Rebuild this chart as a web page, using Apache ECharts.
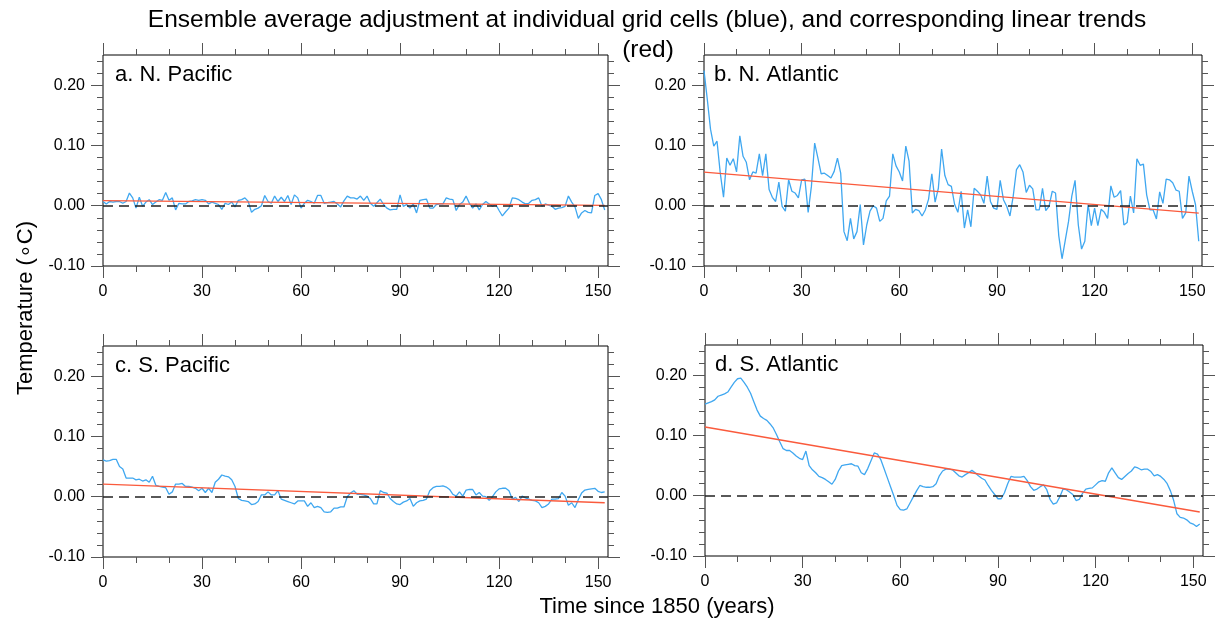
<!DOCTYPE html>
<html>
<head>
<meta charset="utf-8">
<script src="https://cdn.jsdelivr.net/npm/echarts@6/dist/echarts.min.js"></script>
<style>
html,body{margin:0;padding:0;background:#fff;}
#chart{width:1220px;height:621px;}
</style>
</head>
<body>
<div id="chart"></div>
<script>
// ---------------- DATA ----------------
const titleLine1 = "Ensemble average adjustment at individual grid cells (blue), and corresponding linear trends";
const titleLine2 = "(red)";
const yAxisName = "Temperature (\u2218C)";
const xAxisName = "Time since 1850 (years)";
const panelNames = ["a. N. Pacific", "b. N. Atlantic", "c. S. Pacific", "d. S. Atlantic"];

const xMajorTicks = [0, 30, 60, 90, 120, 150];
const xMinorTicks = [10, 20, 40, 50, 70, 80, 100, 110, 130, 140];
const yMajorTicks = [-0.1, 0, 0.1, 0.2];
const yMinorTicks = [-0.08, -0.06, -0.04, -0.02, 0.02, 0.04, 0.06, 0.08, 0.12, 0.14, 0.16, 0.18, 0.22, 0.24];

// years since 1850 (0..152)
const years = [];
for (let i = 0; i <= 152; i++) years.push(i);

const nPacific = [
0.007,0.003,0.007,0.006,0.007,0.007,0.004,0.007,0.021,0.013,
-0.004,0.014,-0.001,0.006,0.010,0.002,0.006,0.010,0.009,0.022,
0.009,0.013,-0.007,0.004,0.003,0.003,0.007,0.008,0.010,0.009,
0.010,0.009,0.003,0.006,0.004,0.002,-0.006,0.004,0.002,0.006,
-0.002,0.009,0.010,0.013,0.007,-0.011,-0.006,-0.004,0.000,0.017,
0.007,0.004,0.016,0.007,0.014,0.007,0.017,0.002,0.018,0.013,
-0.004,0.004,0.009,0.007,0.004,0.017,0.017,0.004,0.005,0.006,
0.007,0.003,-0.002,0.008,0.016,0.013,0.013,0.011,0.016,0.009,
0.016,0.004,-0.001,0.005,0.011,0.002,-0.004,-0.007,-0.006,-0.006,
0.018,-0.001,0.002,-0.004,0.003,-0.012,0.009,0.010,0.011,-0.004,
-0.004,0.002,0.003,0.003,0.013,0.011,0.010,-0.008,0.002,0.006,
0.016,0.004,-0.004,0.003,-0.007,0.002,0.007,0.003,-0.001,0.002,
-0.008,-0.017,-0.010,-0.004,0.013,0.012,0.010,0.006,0.003,0.004,
0.009,0.010,0.013,-0.001,0.003,0.001,-0.001,-0.006,-0.004,-0.003,
-0.001,0.016,0.006,-0.002,-0.021,-0.012,-0.008,-0.011,-0.012,0.017,
0.020,0.010,-0.007];

const nAtlantic = [
0.224,0.177,0.127,0.099,0.107,0.054,0.014,0.079,0.067,0.078,
0.056,0.116,0.082,0.072,0.043,0.056,0.054,0.086,0.050,0.086,
0.027,0.014,0.007,0.039,-0.001,-0.009,0.043,0.024,0.021,0.013,
0.043,0.044,-0.011,0.032,0.104,0.079,0.053,0.054,0.050,0.046,
0.057,0.079,0.054,-0.043,-0.058,-0.021,-0.055,-0.043,0.002,-0.065,
-0.032,-0.009,0.000,-0.004,-0.026,-0.021,0.008,0.016,0.086,0.066,
0.056,0.041,0.099,0.074,-0.012,-0.006,-0.008,-0.017,-0.007,0.011,
0.053,0.006,0.029,0.094,0.050,0.035,0.032,0.002,-0.011,0.024,
-0.037,-0.007,-0.035,0.029,0.024,0.018,0.004,0.049,0.007,-0.004,
-0.006,0.042,0.010,-0.001,-0.017,0.016,0.060,0.068,0.056,0.022,
0.034,0.028,-0.007,-0.007,0.029,-0.008,-0.001,0.024,0.021,-0.050,
-0.088,-0.057,-0.026,0.016,0.042,-0.032,-0.072,-0.059,0.002,-0.033,
-0.004,-0.033,-0.006,-0.011,-0.021,0.033,0.014,0.017,0.025,-0.032,
-0.028,0.016,-0.012,0.078,0.067,0.069,0.018,-0.007,-0.007,-0.022,
0.023,0.004,0.044,0.043,0.038,0.026,0.024,-0.021,-0.012,0.049,
0.024,0.002,-0.059];

const sPacific = [
0.061,0.059,0.060,0.062,0.062,0.050,0.046,0.031,0.031,0.031,
0.028,0.029,0.026,0.028,0.024,0.034,0.019,0.017,0.016,0.015,
0.004,0.008,0.021,0.021,0.022,0.017,0.017,0.016,0.014,0.010,
0.014,0.007,0.014,0.007,0.024,0.029,0.036,0.034,0.033,0.028,
0.017,-0.003,-0.006,-0.007,-0.008,-0.013,-0.012,-0.008,0.003,0.003,
0.008,0.003,0.003,0.010,-0.004,-0.006,-0.008,-0.010,-0.012,-0.007,
-0.007,-0.007,-0.016,-0.010,-0.018,-0.016,-0.018,-0.025,-0.026,-0.025,
-0.019,-0.019,-0.017,-0.017,0.000,0.006,0.010,0.004,0.004,0.003,
0.001,-0.003,-0.012,-0.012,0.010,0.007,0.006,-0.003,-0.008,-0.012,
-0.013,-0.009,-0.007,-0.003,-0.016,-0.010,-0.007,-0.006,-0.004,0.010,
0.015,0.017,0.017,0.018,0.016,0.012,0.004,0.001,0.008,0.001,
0.011,0.012,0.012,0.003,0.007,0.001,0.000,-0.006,0.000,0.008,
0.013,0.014,0.014,0.010,-0.004,-0.001,-0.008,0.001,-0.002,-0.004,
-0.006,-0.007,-0.010,-0.018,-0.016,-0.012,-0.004,-0.004,-0.003,0.007,
0.001,-0.014,-0.010,-0.018,-0.005,0.006,0.011,0.012,0.013,0.014,
0.009,0.007,0.008];

const sAtlantic = [
0.152,0.154,0.156,0.159,0.165,0.167,0.169,0.172,0.180,0.188,
0.194,0.195,0.188,0.180,0.170,0.156,0.142,0.132,0.128,0.125,
0.119,0.112,0.101,0.089,0.078,0.075,0.075,0.071,0.066,0.062,
0.060,0.074,0.050,0.043,0.038,0.032,0.030,0.027,0.023,0.019,
0.027,0.041,0.050,0.051,0.052,0.053,0.050,0.049,0.038,0.035,
0.045,0.058,0.071,0.069,0.060,0.045,0.030,0.015,0.000,-0.016,
-0.023,-0.024,-0.022,-0.012,-0.002,0.008,0.017,0.015,0.014,0.014,
0.015,0.020,0.033,0.041,0.044,0.044,0.043,0.038,0.033,0.031,
0.035,0.038,0.042,0.038,0.033,0.029,0.026,0.017,0.009,0.002,
-0.005,-0.005,0.005,0.020,0.032,0.031,0.031,0.031,0.032,0.025,
0.015,0.009,0.011,0.015,0.018,0.010,-0.006,-0.014,-0.012,-0.002,
0.011,0.010,0.006,0.002,-0.008,-0.006,0.004,0.011,0.012,0.013,
0.018,0.023,0.025,0.024,0.038,0.046,0.038,0.030,0.027,0.032,
0.037,0.041,0.048,0.046,0.043,0.044,0.044,0.040,0.033,0.035,
0.032,0.027,0.020,0.008,-0.008,-0.030,-0.036,-0.037,-0.040,-0.045,
-0.047,-0.051,-0.047];

// linear trend endpoints (value at year 0 and year 152)
const trendYears = [0, 152];
const trendNPacific = [0.0083, 0.0005];
const trendNAtlantic = [0.0556, -0.0122];
const trendSPacific = [0.021, -0.010];
const trendSAtlantic = [0.114, -0.027];

// ---------------- CHART ----------------
const seriesData = [nPacific, nAtlantic, sPacific, sAtlantic];
const trendData = [trendNPacific, trendNAtlantic, trendSPacific, trendSAtlantic];

const grids = [
  {left: 103, top: 55, width: 505, height: 211},
  {left: 704, top: 55, width: 498, height: 211},
  {left: 103, top: 346, width: 505, height: 211},
  {left: 705, top: 345, width: 498, height: 211}
];

const FONT = "'Liberation Sans', Arial, Helvetica, sans-serif";
const tickColor = '#555';

const xAxes = [], yAxes = [], series = [], gridOpts = [], graphics = [];

grids.forEach((g, gi) => {
  gridOpts.push(Object.assign({show: true, borderColor: '#000', borderWidth: 1, backgroundColor: 'transparent'}, g));
  const mkX = (pos, major, labels) => ({
    type: 'value', gridIndex: gi, position: pos, min: 0, max: 153,
    axisLine: {show: false, onZero: false},
    splitLine: {show: false},
    axisTick: {show: true, inside: false, length: major ? 12 : 6,
      customValues: major ? xMajorTicks : xMinorTicks,
      lineStyle: {color: tickColor, width: 1}},
    axisLabel: {show: labels, customValues: xMajorTicks, margin: 18,
      color: '#000', fontSize: 16, fontFamily: FONT,
      formatter: v => String(v)}
  });
  xAxes.push(mkX('bottom', true, true));
  xAxes.push(mkX('bottom', false, false));
  xAxes.push(mkX('top', true, false));
  xAxes.push(mkX('top', false, false));

  const mkY = (pos, major, labels) => ({
    type: 'value', gridIndex: gi, position: pos, min: -0.1, max: 0.25,
    axisLine: {show: false, onZero: false},
    splitLine: {show: false},
    axisTick: {show: true, inside: false, length: major ? 12 : 6,
      customValues: major ? yMajorTicks : yMinorTicks,
      lineStyle: {color: tickColor, width: 1}},
    axisLabel: {show: labels, customValues: yMajorTicks, margin: 18,
      color: '#000', fontSize: 16, fontFamily: FONT,
      formatter: v => v.toFixed(2)}
  });
  yAxes.push(mkY('left', true, true));
  yAxes.push(mkY('left', false, false));
  yAxes.push(mkY('right', true, false));
  yAxes.push(mkY('right', false, false));

  const vals = seriesData[gi];
  series.push({
    type: 'line', xAxisIndex: gi * 4, yAxisIndex: gi * 4,
    data: years.map((yr, i) => [yr, vals[i]]),
    showSymbol: false, symbol: 'none', silent: true, z: 3,
    lineStyle: {color: '#3fa7f0', width: 1.3},
    markLine: {
      silent: true, symbol: ['none', 'none'], label: {show: false},
      lineStyle: {color: '#222', width: 1.5, type: [10, 6]},
      data: [{yAxis: 0}]
    }
  });
  const tr = trendData[gi];
  series.push({
    type: 'line', xAxisIndex: gi * 4, yAxisIndex: gi * 4,
    data: trendYears.map((yr, i) => [yr, tr[i]]),
    showSymbol: false, symbol: 'none', silent: true, z: 4,
    lineStyle: {color: '#fa5a3c', width: 1.3}
  });

  graphics.push({
    type: 'text', left: g.left + (gi % 2 === 0 ? 12 : 10), top: g.top + 9,
    style: {text: panelNames[gi], fontSize: 22, fontFamily: FONT, fill: '#000'}
  });
});

graphics.push({type: 'text', x: 647, y: 20,
  style: {text: titleLine1, fontSize: 24.5, fontFamily: FONT, fill: '#000', align: 'center', verticalAlign: 'middle'}});
graphics.push({type: 'text', x: 648, y: 50,
  style: {text: titleLine2, fontSize: 24.5, fontFamily: FONT, fill: '#000', align: 'center', verticalAlign: 'middle'}});
graphics.push({type: 'text', x: 657, y: 607,
  style: {text: xAxisName, fontSize: 22, fontFamily: FONT, fill: '#000', align: 'center', verticalAlign: 'middle'}});
graphics.push({type: 'text', x: 26, y: 308, rotation: Math.PI / 2,
  style: {text: yAxisName, fontSize: 22, fontFamily: FONT, fill: '#000', align: 'center', verticalAlign: 'middle'}});

const chart = echarts.init(document.getElementById('chart'), null, {renderer: 'canvas'});
chart.setOption({
  animation: false,
  backgroundColor: '#fff',
  grid: gridOpts,
  xAxis: xAxes,
  yAxis: yAxes,
  series: series,
  graphic: graphics
});
</script>
</body>
</html>
